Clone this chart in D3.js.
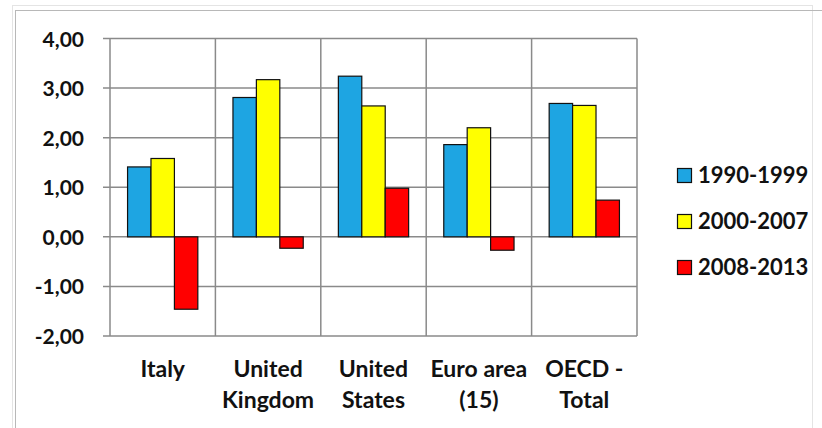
<!DOCTYPE html>
<html><head><meta charset="utf-8">
<script src="https://cdn.jsdelivr.net/npm/d3@7"></script>
<style>html,body{margin:0;padding:0;background:#fff}svg{display:block}</style>
</head><body>
<svg id="c" width="822" height="428"></svg>
<script>
const categories = [["Italy"], ["United", "Kingdom"], ["United", "States"], ["Euro area", "(15)"], ["OECD -", "Total"]];
const seriesNames = ["1990-1999", "2000-2007", "2008-2013"];
const s1990 = [1.41, 2.81, 3.24, 1.86, 2.69];
const s2000 = [1.58, 3.17, 2.64, 2.20, 2.65];
const s2008 = [-1.46, -0.23, 0.98, -0.27, 0.74];
const colors = ["#1ea5e2", "#ffff00", "#ff0000"];
const yTicks = [4, 3, 2, 1, 0, -1, -2];

const svg = d3.select("#c");
const font = "Lato, 'Open Sans', sans-serif";

// outer frame
svg.append("rect").attr("x", 12.5).attr("y", 5.5).attr("width", 800).attr("height", 440)
  .attr("fill", "none").attr("stroke", "#e4e4e4");
svg.append("rect").attr("x", 15.5).attr("y", 10.5).attr("width", 820).attr("height", 440)
  .attr("fill", "none").attr("stroke", "#b8b8b8");

const pLeft = 110, pRight = 637, pTop = 38.5, pBottom = 336;
const x0 = d3.scaleBand().domain(d3.range(categories.length)).range([pLeft, pRight]).paddingInner(0).paddingOuter(0);
const barW = x0.bandwidth() / 4.5;
const x1 = d3.scaleBand().domain(d3.range(3)).range([0, barW * 3]);
const y = d3.scaleLinear().domain([-2, 4]).range([pBottom, pTop]);

// gridlines
const g = svg.append("g");
g.selectAll("line.h").data(yTicks).join("line")
  .attr("x1", pLeft - 7).attr("x2", pRight).attr("y1", d => y(d)).attr("y2", d => y(d))
  .attr("stroke", "#8a8a8a").attr("stroke-width", 1.5);
g.selectAll("line.v").data(d3.range(categories.length + 1)).join("line")
  .attr("x1", i => i < categories.length ? x0(i) : pRight).attr("x2", i => i < categories.length ? x0(i) : pRight)
  .attr("y1", pTop).attr("y2", pBottom)
  .attr("stroke", "#8a8a8a").attr("stroke-width", 1.5);

// y axis labels
const yAxis = d3.axisLeft(y).tickValues(yTicks).tickSize(0).tickPadding(0)
  .tickFormat(d => d3.format(".2f")(d).replace(".", ",").replace("−", "-"));
const ya = svg.append("g").attr("transform", `translate(${pLeft - 26},0)`).call(yAxis);
ya.select(".domain").remove();
ya.selectAll("text").attr("font-family", font).attr("font-weight", "bold").attr("font-size", 21)
  .attr("fill", "#111").attr("dy", "0.36em");

// bars
const series = [s1990, s2000, s2008];
series.forEach((vals, si) => {
  svg.append("g").selectAll("rect").data(vals).join("rect")
    .attr("x", (d, i) => x0(i) + barW * 0.75 + x1(si))
    .attr("width", barW)
    .attr("y", d => y(Math.max(0, d)))
    .attr("height", d => Math.abs(y(d) - y(0)))
    .attr("fill", colors[si]).attr("stroke", "#111").attr("stroke-width", 1.2);
});

// category labels
const cl = svg.append("g");
categories.forEach((lines, i) => {
  lines.forEach((t, li) => {
    cl.append("text").attr("x", x0(i) + x0.bandwidth() / 2).attr("y", 377 + li * 31)
      .attr("text-anchor", "middle").attr("font-family", font).attr("font-weight", "bold")
      .attr("font-size", 23).attr("fill", "#111").text(t);
  });
});

// legend
const lg = svg.append("g");
seriesNames.forEach((n, i) => {
  const yy = 168 + i * 46;
  lg.append("rect").attr("x", 677.5).attr("y", yy + 0.5).attr("width", 14).attr("height", 14)
    .attr("fill", colors[i]).attr("stroke", "#111").attr("stroke-width", 1.2);
  lg.append("text").attr("x", 698).attr("y", yy + 15).attr("font-family", font).attr("font-weight", "bold")
    .attr("font-size", 22).attr("fill", "#111").text(n);
});
</script>
</body></html>
